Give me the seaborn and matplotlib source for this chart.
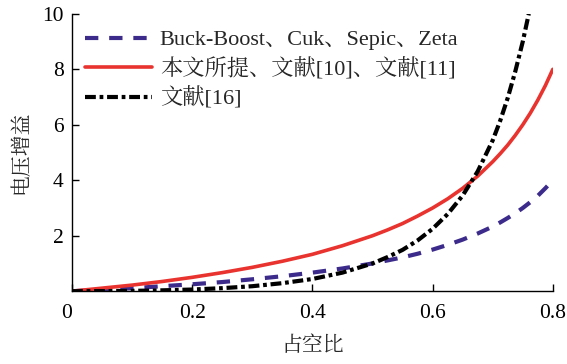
import matplotlib
matplotlib.use("Agg")
import matplotlib.pyplot as plt
import seaborn as sns

# -----------------------------
# Data
# -----------------------------
duty = [0, 0.05, 0.1, 0.15, 0.2, 0.25, 0.3, 0.35, 0.4, 0.45, 0.5, 0.525, 0.55,
        0.575, 0.6, 0.625, 0.65, 0.675, 0.7, 0.7125, 0.725, 0.7375, 0.75,
        0.7625, 0.775, 0.7875, 0.8]
gain_buckboost = [0, 0.05, 0.11, 0.18, 0.25, 0.33, 0.43, 0.54, 0.67, 0.82, 1.0,
                  1.11, 1.22, 1.35, 1.5, 1.67, 1.86, 2.08, 2.33, 2.48, 2.64,
                  2.81, 3.0, 3.21, 3.44, 3.71, 4.0]
gain_proposed = [0, 0.11, 0.22, 0.35, 0.5, 0.67, 0.86, 1.08, 1.33, 1.64, 2.0,
                 2.21, 2.44, 2.71, 3.0, 3.33, 3.71, 4.15, 4.67, 4.96, 5.27,
                 5.62, 6.0, 6.42, 6.89, 7.41, 8.0]
duty_ref16 = [0, 0.05, 0.1, 0.15, 0.2, 0.25, 0.3, 0.35, 0.4, 0.45, 0.5, 0.525,
              0.55, 0.575, 0.6, 0.625, 0.65, 0.675, 0.7, 0.7125, 0.725, 0.7375,
              0.75, 0.76]
gain_ref16 = [0, 0.003, 0.012, 0.031, 0.06, 0.11, 0.18, 0.29, 0.44, 0.67, 1.0,
              1.23, 1.49, 1.83, 2.25, 2.78, 3.45, 4.32, 5.44, 6.15, 6.97, 7.92,
              9.0, 10.0]

labels = ["Buck-Boost、Cuk、Sepic、Zeta", "本文所提、文献[10]、文献[11]", "文献[16]"]
x_ticks = [0, 0.2, 0.4, 0.6, 0.8]
x_tick_labels = ["0", "0.2", "0.4", "0.6", "0.8"]
y_ticks = [2, 4, 6, 8, 10]

# -----------------------------
# Style
# -----------------------------
sns.set_theme(style="ticks")
plt.rcParams["font.family"] = ["Liberation Serif", "Noto Serif CJK SC", "Noto Sans CJK SC"]
plt.rcParams["axes.unicode_minus"] = False

fig = plt.figure(figsize=(5.67, 3.64), dpi=100)
ax = fig.add_axes([0.127, 0.2, 0.848, 0.762])

sns.lineplot(x=duty, y=gain_buckboost, ax=ax, color="#3d2b8c", lw=3.0,
             label=labels[0]).lines[-1].set_dashes([3.2, 2.6])
sns.lineplot(x=duty, y=gain_proposed, ax=ax, color="#e8332f", lw=2.6, label=labels[1])
sns.lineplot(x=duty_ref16, y=gain_ref16, ax=ax, color="black", lw=3.0,
             label=labels[2]).lines[-1].set_dashes([2.6, 0.9, 0.9, 0.9])

ax.set_xlim(0, 0.8)
ax.set_ylim(0, 10)
ax.set_xticks(x_ticks)
ax.set_xticklabels(x_tick_labels)
ax.set_yticks(y_ticks)
ax.tick_params(direction="in", length=5, width=1, labelsize=15.5, colors="black")
ax.tick_params(axis="x", pad=9)
ax.tick_params(axis="y", pad=6)
for lab in ax.get_xticklabels():
    if lab.get_text() == "0":
        lab.set_horizontalalignment("right")
sns.despine(ax=ax)
for s in ["left", "bottom"]:
    ax.spines[s].set_color("black")
    ax.spines[s].set_linewidth(1.0)

ax.set_xlabel("占空比", fontsize=15, labelpad=10)
ax.set_ylabel("电压增益", fontsize=15, labelpad=8)

leg = ax.legend(loc="upper left", frameon=False, fontsize=16, handlelength=3.0,
                handletextpad=0.35, labelspacing=0.32, borderaxespad=0.2,
                bbox_to_anchor=(0.0, 0.99))

fig.savefig("out.png", dpi=100)
